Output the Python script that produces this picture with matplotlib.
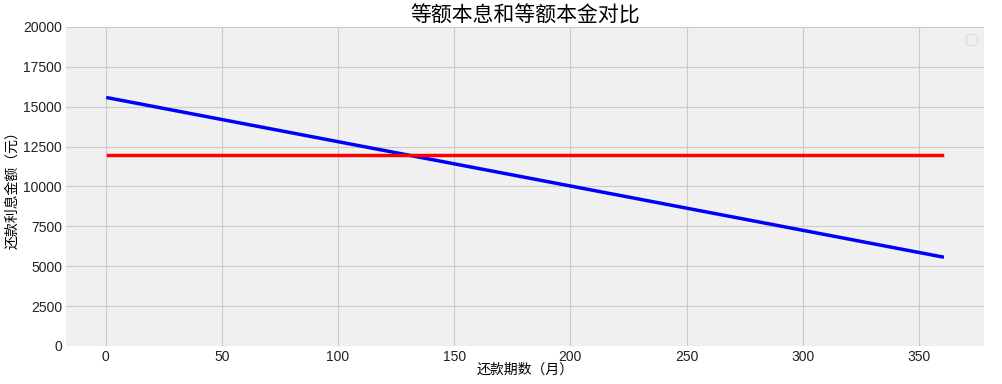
import matplotlib
matplotlib.use('Agg')
import matplotlib.pyplot as plt
import numpy as np

plt.rcParams['font.family'] = ['Noto Sans CJK SC', 'DejaVu Sans']
plt.rcParams['axes.unicode_minus'] = False

# end points of each (straight) line
months = [1, 360]
equal_principal = [15556, 5583]     # 等额本金, blue
equal_installment = [11991, 11991]  # 等额本息, red

fig = plt.figure(figsize=(10.03, 3.84), dpi=100)
ax = fig.add_axes([0.066, 0.099, 0.915, 0.831])
ax.set_facecolor('#f0f0f0')
ax.set_axisbelow(True)
ax.grid(True, color='#cbcbcb', linewidth=0.8)
for s in ax.spines.values():
    s.set_visible(False)
ax.tick_params(length=0, labelsize=10, colors='#222222', pad=3)

ax.plot(months, equal_principal, color='blue', linewidth=2.5)
ax.plot(months, equal_installment, color='red', linewidth=2.5)

ax.set_ylim(0, 20000)
ax.set_yticks(np.arange(0, 20001, 2500))
ax.set_xticks(np.arange(0, 351, 50))
for lab in ax.get_xticklabels() + ax.get_yticklabels():
    lab.set_fontfamily('Liberation Sans')

ax.set_title('等额本息和等额本金对比', fontsize=15, pad=2)
ax.set_xlabel('还款期数（月）', fontsize=10, labelpad=-1)
ax.set_ylabel('还款利息金额（元）', fontsize=10, labelpad=3)
ax.legend(handles=[], loc='upper right', facecolor='#f0f0f0', edgecolor='#dddddd')

fig.savefig('out.png', dpi=100, facecolor='white')
